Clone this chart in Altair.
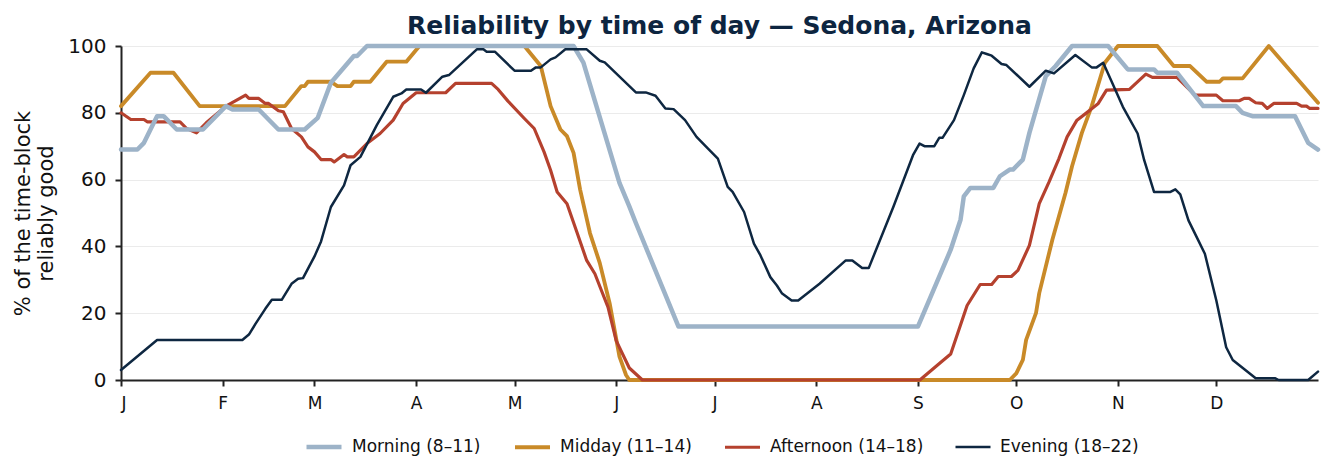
import altair as alt
import pandas as pd

# Values (day of year, % reliably good)
morning = [(0, 69), (5, 69), (7, 71), (10, 77), (11, 79), (13, 79), (17, 75), (25, 75), (32, 82),
           (34, 81), (42, 81), (48, 75), (56, 75), (60, 78.5), (64, 89), (71, 97), (72, 97), (75, 100),
           (138, 100), (141, 95), (152, 59), (155, 52), (157, 47), (170, 16), (243, 16), (253, 39),
           (256, 48), (257, 55), (259, 57.5), (266, 57.5), (268, 61), (271, 63), (272, 63), (275, 66),
           (277, 74), (282, 91), (285, 94), (290, 100), (301, 100), (307, 93), (315, 93), (316, 92),
           (322, 92), (330, 82), (340, 82), (342, 80), (345, 79), (358, 79), (360, 75), (362, 71), (365, 69)]

midday = [(0, 82), (9, 92), (16, 92), (24, 82), (50, 82), (55, 88), (56, 88), (57, 89.3), (64, 89.3),
          (66, 88), (70, 88), (71, 89.3), (76, 89.3), (81, 95.3), (87, 95.3), (91, 100), (123, 100),
          (128, 94), (131, 82), (134, 75), (136, 73), (138, 68), (140, 57), (143, 44), (146, 35),
          (149, 23), (152, 7), (154, 1.5), (155, 0), (271, 0), (273, 2), (275, 6), (276, 12), (279, 20),
          (280, 26), (284, 42), (288, 56), (290, 64), (293, 74), (296, 82), (300, 95), (304, 100),
          (316, 100), (321, 94), (326, 94), (331, 89.3), (335, 89.3), (336, 90.3), (342, 90.3),
          (350, 100), (365, 83)]

afternoon = [(0, 80), (3, 78), (7, 78), (8, 77.3), (18, 77.3), (20, 75.3), (23, 74), (26, 77), (32, 82),
             (38, 85.3), (39, 84.3), (42, 84.3), (44, 82.8), (45, 82.8), (48, 80.6), (49.5, 80.3),
             (52, 75.3), (55, 72.8), (57, 69.8), (59, 68.3), (61, 66), (64, 66), (65, 65.3), (68, 67.5),
             (69, 66.8), (71, 66.8), (75, 70.8), (79, 73.8), (83, 77.8), (86, 82.8), (90, 86), (99, 86),
             (102, 88.8), (113, 88.8), (115, 87), (118, 83.5), (123, 78.3), (126, 75.3), (129, 68.3),
             (131, 62.8), (133, 56.3), (136, 52.8), (139, 44.3), (142, 35.8), (144.5, 31.8), (146.5, 26.8),
             (148.5, 21.8), (151, 11.8), (155, 3.6), (159, 0), (243.6, 0), (250, 5.3), (253, 7.8),
             (258, 22.3), (262, 28.6), (265.5, 28.6), (267.5, 31), (271.5, 31), (273.5, 32.8), (277, 40.3),
             (280, 52.8), (283, 59.3), (286, 66.3), (288.5, 72.8), (291.5, 77.8), (295.5, 80.8),
             (298, 82.8), (300.5, 86.8), (307.5, 87), (312.5, 91.6), (314.5, 90.6), (322, 90.6),
             (327.5, 85.3), (334, 85.3), (336, 83.6), (341, 83.6), (342.5, 84.3), (344, 84.3), (346, 83),
             (348, 82.8), (349.5, 81.3), (351.5, 82.8), (358.5, 82.8), (360, 82), (361.5, 82),
             (362.5, 81.3), (365, 81.3)]

evening = [(0, 3), (11, 12), (37, 12), (39, 13.6), (41, 16.8), (44, 21.3), (46, 24), (49, 24), (52, 28.8),
           (54, 30.3), (55.5, 30.5), (59, 37), (61, 41.5), (64, 51.8), (68, 58.3), (70, 64.3), (73, 66.8),
           (78, 76.3), (83, 84.8), (85.5, 85.8), (87, 87), (91.5, 87), (93, 86), (98, 90.8), (100, 91.3),
           (108.5, 99), (110.5, 99), (111.5, 98.3), (114, 98.3), (120, 92.6), (125, 92.6), (126.5, 93.6),
           (128, 93.6), (131, 96), (132.5, 96.6), (135.5, 99), (142, 99), (146, 95.6), (147.5, 95.1),
           (157, 86.1), (160, 86.1), (163, 85.1), (166, 81.3), (168.5, 81.1), (172, 77.8), (175.5, 72.8),
           (179, 69.3), (182, 66.3), (185, 57.8), (186.5, 56.3), (190, 50.3), (193, 40.8), (195, 37.3),
           (198, 30.8), (200, 28.3), (201.5, 26), (204.5, 23.8), (206.5, 23.8), (213, 28.8), (221, 35.8),
           (223, 35.8), (226, 33.5), (228, 33.5), (235.5, 51.8), (241.5, 67.3), (243.5, 70.8), (245, 70),
           (248, 70), (249.5, 72.5), (250.5, 72.5), (254, 77.8), (257, 85.3), (260, 93.3), (262.5, 98.1),
           (264, 97.6), (265.5, 97.1), (268.5, 94.6), (270, 94.3), (277, 87.8), (282, 92.6), (284.5, 91.8),
           (291, 97.3), (296, 93.6), (297.5, 93.6), (299.5, 95), (302, 89.5), (305.5, 81.8), (310, 73.8),
           (312, 65.8), (315, 56.3), (320, 56.3), (321.5, 57.1), (323, 55.6), (325.5, 47.8), (328.5, 41.8),
           (330.5, 37.8), (334, 23.8), (337, 9.8), (339, 6), (346, 0.5), (352, 0.5), (353, 0), (362, 0),
           (365, 2.5)]

series_names = ["Morning (8–11)", "Midday (11–14)", "Afternoon (14–18)", "Evening (18–22)"]
series_colors = ["#9db3c8", "#c98a28", "#b5412e", "#0e2741"]
series_widths = [4.5, 2.5, 2.5, 2.5]

month_starts = [0, 31, 59, 90, 120, 151, 181, 212, 243, 273, 304, 334]
month_letters = ["J", "F", "M", "A", "M", "J", "J", "A", "S", "O", "N", "D"]

rows = []
for name, pts in zip(series_names, [morning, midday, afternoon, evening]):
    for d, v in pts:
        rows.append({"series": name, "day": d, "value": v})
df = pd.DataFrame(rows)

label_expr = "[" + ",".join("'%s'" % m for m in month_letters) + "][indexof([" + \
    ",".join(str(m) for m in month_starts) + "], datum.value)]"

x_enc = alt.X("day:Q", scale=alt.Scale(domain=[0, 365], nice=False, zero=False),
              axis=alt.Axis(values=month_starts, labelExpr=label_expr, title=None, grid=False,
                            labelFontSize=17, labelPadding=9, tickSize=6, labelColor="#111111"))
y_enc = alt.Y("value:Q", scale=alt.Scale(domain=[0, 100], nice=False),
              axis=alt.Axis(values=[0, 20, 40, 60, 80, 100], title=["% of the time-block", "reliably good"],
                            grid=True, labelFontSize=20, labelPadding=9, tickSize=6,
                            titleFontSize=21, titleFontWeight="normal", titlePadding=11,
                            titleLineHeight=23, labelColor="#111111", titleColor="#111111"))

legend_kw = dict(title=None, orient="none", direction="horizontal",
                 legendX=183, legendY=381, symbolType="stroke",
                 symbolSize=1225, labelFontSize=17, labelOffset=8,
                 columnPadding=26, labelFont="DejaVu Sans", labelColor="#111111")
color_enc = alt.Color("series:N", scale=alt.Scale(domain=series_names, range=series_colors),
                      legend=alt.Legend(**legend_kw))
width_enc = alt.StrokeWidth("series:N", scale=alt.Scale(domain=series_names, range=series_widths),
                            legend=alt.Legend(**legend_kw))

base = alt.Chart(df)
draw_order = [series_names[1], series_names[2], series_names[0], series_names[3]]
layers = [
    base.transform_filter(alt.datum.series == s).mark_line(strokeJoin="round", strokeCap="round")
    .encode(x=x_enc, y=y_enc, color=color_enc, strokeWidth=width_enc)
    for s in draw_order
]

chart = alt.layer(*layers).properties(
    width=1197, height=334,
    title=alt.TitleParams("Reliability by time of day — Sedona, Arizona", anchor="middle",
                          fontSize=25, font="DejaVu Sans", fontWeight="bold",
                          color="#0d2540", offset=-3),
    autosize=alt.AutoSizeParams(type="none"),
    padding={"left": 121, "top": 46, "right": 15, "bottom": 95},
    background="white",
).configure(font="DejaVu Sans").configure_view(stroke=None).configure_axis(
    domainColor="#222222", domainWidth=2, tickColor="#222222", tickWidth=2,
    gridColor="#ebebeb", gridWidth=1, labelFont="DejaVu Sans", titleFont="DejaVu Sans"
).configure_axisX(domain=True).configure_axisY(domain=True)

chart.save("out.html", embed_options={"renderer": "svg", "actions": False})
